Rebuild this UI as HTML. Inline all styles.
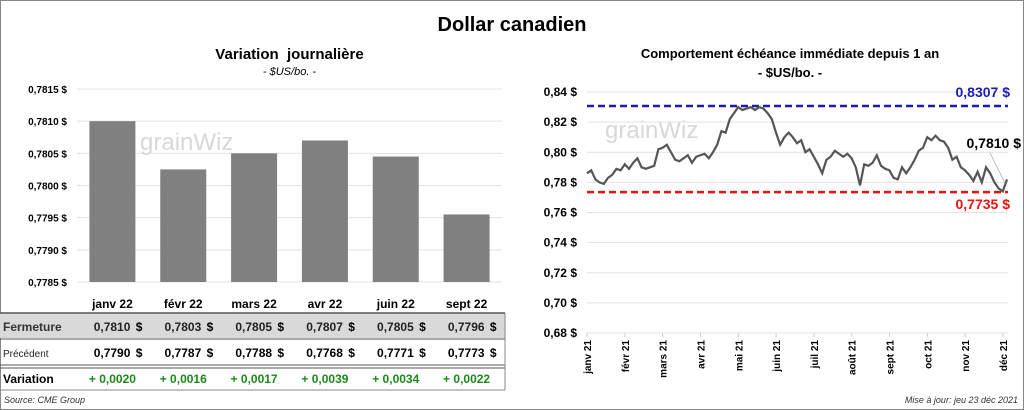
<!DOCTYPE html>
<html><head><meta charset="utf-8"><style>
body{margin:0;width:1024px;height:410px;background:#fff;font-family:"Liberation Sans",sans-serif;overflow:hidden}
#frame{position:absolute;left:0;top:0;width:1022px;height:408px;border:1px solid #888}
.t{position:absolute;white-space:nowrap}
</style></head><body>
<div id="frame"></div>
<div class="t" style="left:0;width:1024px;text-align:center;top:14px;font-size:20px;font-weight:bold">Dollar canadien</div>
<div class="t" style="left:77px;width:425px;text-align:center;top:46px;font-size:15px;font-weight:bold">Variation&nbsp; journalière</div>
<div class="t" style="left:77px;width:425px;text-align:center;top:66px;font-size:11px;font-style:italic">- $US/bo. -</div>
<div class="t" style="left:560px;width:460px;text-align:center;top:46px;font-size:13px;font-weight:bold">Comportement échéance immédiate depuis 1 an</div>
<div class="t" style="left:560px;width:460px;text-align:center;top:65px;font-size:13px;font-weight:bold">- $US/bo. -</div>
<svg width="1024" height="410" style="position:absolute;left:0;top:0" id="svg"></svg>
<div class="t" style="left:4px;top:395px;font-size:9px;font-style:italic;color:#333">Source: CME Group</div>
<div class="t" style="right:6px;top:395px;font-size:9px;font-style:italic;color:#333">Mise à jour: jeu 23 déc 2021</div>
<script>
const barCats=["janv 22","févr 22","mars 22","avr 22","juin 22","sept 22"];
const barClose=[0.7810,0.78025,0.7805,0.7807,0.78045,0.77955];
const closeLabels=["0,7810","0,7803","0,7805","0,7807","0,7805","0,7796"];
const prevLabels=["0,7790","0,7787","0,7788","0,7768","0,7771","0,7773"];
const varLabels=["+ 0,0020","+ 0,0016","+ 0,0017","+ 0,0039","+ 0,0034","+ 0,0022"];
const leftTicks=[0.7785,0.7790,0.7795,0.7800,0.7805,0.7810,0.7815];
const rightTicks=[0.68,0.70,0.72,0.74,0.76,0.78,0.80,0.82,0.84];
const months=["janv 21","févr 21","mars 21","avr 21","mai 21","juin 21","juil 21","août 21","sept 21","oct 21","nov 21","déc 21"];
const lineVals=[0.786,0.788,0.782,0.780,0.779,0.783,0.785,0.789,0.788,0.792,
0.789,0.793,0.796,0.790,0.789,0.790,0.791,0.802,0.803,0.805,
0.800,0.795,0.794,0.796,0.798,0.793,0.797,0.798,0.799,0.796,
0.800,0.805,0.814,0.813,0.822,0.826,0.830,0.828,
0.829,0.830,0.828,0.830,0.829,0.826,0.822,0.813,
0.805,0.810,0.813,0.810,0.806,0.808,0.800,0.802,0.797,
0.792,0.786,0.795,0.797,0.801,0.799,0.797,0.799,0.796,
0.790,0.778,0.792,0.791,0.793,0.798,0.791,0.789,0.788,
0.783,0.782,0.790,0.786,0.790,0.795,0.801,0.803,
0.810,0.808,0.811,0.808,0.807,0.803,0.795,0.797,0.790,
0.788,0.785,0.781,0.787,0.780,0.790,0.786,0.780,0.776,0.774,0.782];
const hiVal=0.8307, loVal=0.7735, lastLabel="0,7810 $";
const NS="http://www.w3.org/2000/svg", svg=document.getElementById('svg');
function mk(tag,attrs,txt){const e=document.createElementNS(NS,tag);for(const k in attrs)e.setAttribute(k,attrs[k]);if(txt!==undefined)e.textContent=txt;svg.appendChild(e);return e;}
const fmt=(v,d)=>v.toFixed(d).replace('.',',');
// left axes
const ly=v=>282-(v-0.7785)/0.0030*193;
const lx0=77,lx1=502,bw=(lx1-lx0)/barCats.length;
leftTicks.forEach(v=>{let e=mk('line',{x1:lx0,x2:lx1,y1:ly(v),y2:ly(v),stroke:'#e3e3e3'});
let t=mk('text',{x:67,y:ly(v)+4,'text-anchor':'end','font-size':10,'font-weight':'bold'},fmt(v,4)+' $');});
mk('text',{x:140,y:150,'font-size':24,fill:'#d8d8d8'},'grainWiz');
mk('text',{x:605,y:138,'font-size':24,fill:'#d8d8d8'},'grainWiz');
barCats.forEach((c,i)=>{const cx=lx0+bw*(i+.5);
let r=mk('rect',{x:cx-23,y:ly(barClose[i]),width:46,height:282-ly(barClose[i]),fill:'#808080'});
let t=mk('text',{x:cx,y:308,'text-anchor':'middle','font-size':12,'font-weight':'bold'},c);
let a=mk('text',{x:cx+18,y:331,'text-anchor':'end','font-size':12,'font-weight':'bold',fill:'#222'},closeLabels[i]);
mk('text',{x:cx+30,y:331,'text-anchor':'end','font-size':12,'font-weight':'bold'},'$');
let b=mk('text',{x:cx+18,y:357,'text-anchor':'end','font-size':12,'font-weight':'bold'},prevLabels[i]);
mk('text',{x:cx+30,y:357,'text-anchor':'end','font-size':12,'font-weight':'bold'},'$');
let v=mk('text',{x:cx,y:383,'text-anchor':'middle','font-size':12,'font-weight':'bold',fill:'#1a8a1a'},varLabels[i]);
});
// table rows
let g=mk('rect',{x:0,y:313,width:505,height:25,fill:'#d9d9d9'});
svg.insertBefore(g,svg.firstChild);
mk('line',{x1:0,x2:505,y1:313,y2:313,stroke:'#555','stroke-width':1.5});
mk('line',{x1:0,x2:505,y1:339,y2:339,stroke:'#555','stroke-width':1});
mk('line',{x1:0,x2:505,y1:365,y2:365,stroke:'#555','stroke-width':1});
mk('line',{x1:0,x2:505,y1:368,y2:368,stroke:'#555','stroke-width':1});
mk('line',{x1:0,x2:505,y1:390,y2:390,stroke:'#888','stroke-width':1});
mk('line',{x1:505,x2:505,y1:313,y2:390,stroke:'#888','stroke-width':1});
mk('text',{x:3,y:331,'font-size':12,'font-weight':'bold',fill:'#333'},'Fermeture');
mk('text',{x:3,y:357,'font-size':10,fill:'#222'},'Précédent');
mk('text',{x:3,y:383,'font-size':12,'font-weight':'bold'},'Variation');
// right chart
const rx0=587,rx1=1008,ry=v=>333-(v-0.68)/0.16*241;
rightTicks.forEach(v=>{let e=mk('line',{x1:rx0,x2:rx1,y1:ry(v),y2:ry(v),stroke:'#e3e3e3'});
let t=mk('text',{x:577,y:ry(v)+4,'text-anchor':'end','font-size':12,'font-weight':'bold'},fmt(v,2)+' $');});
const mx=i=>587+i*(1003-587)/11;
months.forEach((m,i)=>{mk('line',{x1:mx(i),x2:mx(i),y1:333,y2:337,stroke:'#ccc'});
let t=mk('text',{transform:`translate(${mx(i)+4},340) rotate(-90)`,'text-anchor':'end','font-size':10,'font-weight':'bold'},m);});
const lineX=i=>rx0+i*(1007-rx0)/(lineVals.length-1);
let h=mk('line',{x1:rx0,x2:rx1,y1:ry(hiVal),y2:ry(hiVal),stroke:'#1c1cb4','stroke-width':2.5,'stroke-dasharray':'7,4'});
let l=mk('line',{x1:rx0,x2:rx1,y1:ry(loVal),y2:ry(loVal),stroke:'#ee1111','stroke-width':2.5,'stroke-dasharray':'7,4'});
let p=mk('polyline',{points:lineVals.map((v,i)=>lineX(i)+','+ry(v)).join(' '),fill:'none',stroke:'#555','stroke-width':2.2});
mk('line',{x1:990,x2:1005,y1:153,y2:183,stroke:'#aaa','stroke-width':0.8});
let a=mk('text',{x:1010,y:97,'text-anchor':'end','font-size':14,'font-weight':'bold',fill:'#1c1cb4'},fmt(hiVal,4)+' $');
let b=mk('text',{x:1010,y:209,'text-anchor':'end','font-size':14,'font-weight':'bold',fill:'#ee1111'},fmt(loVal,4)+' $');
let c=mk('text',{x:1021,y:148,'text-anchor':'end','font-size':14,'font-weight':'bold'},lastLabel);
</script>
</body></html>
